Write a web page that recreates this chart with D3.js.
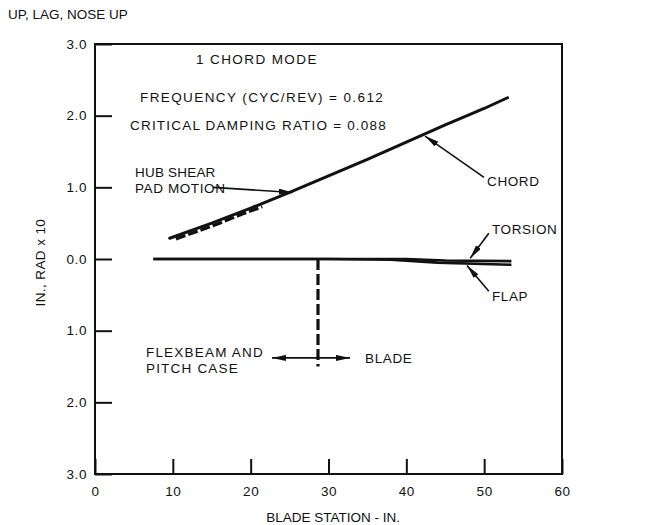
<!DOCTYPE html>
<html><head><meta charset="utf-8">
<script src="https://cdn.jsdelivr.net/npm/d3@7"></script>
<style>
body{margin:0;background:#fff;}
text{font-family:"Liberation Sans",Arial,Helvetica,sans-serif;fill:#111;}
</style></head>
<body><svg id="c" width="647" height="525"></svg>
<script>
// ---- data ----
const xTicks = [0,10,20,30,40,50,60];
const xTickLabels = ["0","10","20","30","40","50","60"];
const yTicks = [3,2,1,0,-1,-2,-3];
const yTickLabels = ["3.0","2.0","1.0","0.0","1.0","2.0","3.0"];
const chordStation = [9.6,15,20,25,30,35,40,45,50,53];
const chordValue   = [0.29,0.50,0.71,0.93,1.16,1.39,1.63,1.87,2.10,2.25];
const hubStation = [10.4,13,16,19,21.5];
const hubValue   = [0.28,0.38,0.50,0.63,0.73];
const flapStation = [7.5,20,30,38,44,53.5];
const flapValue   = [0,0,0,-0.01,-0.05,-0.08];
const torsionStation = [7.5,30,40,45,53.5];
const torsionValue   = [0,0,0,-0.02,-0.03];
const boundaryStation = 28.65;
const boundaryRange = [0,-1.5];

const svg = d3.select("#c");
const x = d3.scaleLinear().domain([0,60]).range([95,562]);
const y = d3.scaleLinear().domain([-3,3]).range([474,44]);
const FS = "13.5px";

// frame
svg.append("rect").attr("x",x(0)).attr("y",y(3)).attr("width",x(60)-x(0)).attr("height",y(-3)-y(3))
  .attr("fill","none").attr("stroke","#111").attr("stroke-width",2);

// axes
const yAxis = d3.axisLeft(y).tickValues(yTicks).tickFormat((d,i)=>yTickLabels[i]).tickSizeInner(-17).tickSizeOuter(0).tickPadding(8);
const gy = svg.append("g").attr("transform",`translate(${x(0)},0)`).call(yAxis);
const xAxis = d3.axisBottom(x).tickValues(xTicks).tickFormat((d,i)=>xTickLabels[i]).tickSizeInner(-15).tickSizeOuter(0).tickPadding(12);
const gx = svg.append("g").attr("transform",`translate(0,${y(-3)})`).call(xAxis);
[gx,gy].forEach(g=>{
  g.select(".domain").remove();
  g.selectAll(".tick line").attr("stroke","#111").attr("stroke-width",2);
  g.selectAll(".tick text").attr("font-size",FS).attr("fill","#111").attr("font-family","Liberation Sans, Arial, sans-serif").style("letter-spacing","0.6px");
});

const line = d3.line().x(d=>x(d[0])).y(d=>y(d[1]));
const zip = (a,b)=>a.map((v,i)=>[v,b[i]]);
const chordAt = v => d3.scaleLinear().domain(chordStation).range(chordValue)(v);

// lines
svg.append("path").datum(zip(flapStation,flapValue)).attr("d",line)
  .attr("fill","none").attr("stroke","#111").attr("stroke-width",2.6);
svg.append("path").datum(zip(torsionStation,torsionValue)).attr("d",line)
  .attr("fill","none").attr("stroke","#111").attr("stroke-width",2.6);
svg.append("path").datum(zip(hubStation,hubValue)).attr("d",line)
  .attr("fill","none").attr("stroke","#111").attr("stroke-width",3.2).attr("stroke-dasharray","10,3");
svg.append("path").datum(zip(chordStation,chordValue)).attr("d",line)
  .attr("fill","none").attr("stroke","#111").attr("stroke-width",3).attr("stroke-linecap","round");
svg.append("line").attr("x1",x(boundaryStation)).attr("x2",x(boundaryStation))
  .attr("y1",y(boundaryRange[0])).attr("y2",y(boundaryRange[1]))
  .attr("stroke","#111").attr("stroke-width",3.2).attr("stroke-dasharray","11,4");

// arrows
const defs = svg.append("defs");
defs.append("marker").attr("id","ah").attr("viewBox","0 0 14 6").attr("refX",14).attr("refY",3)
  .attr("markerWidth",14).attr("markerHeight",6).attr("markerUnits","userSpaceOnUse").attr("orient","auto-start-reverse")
  .append("path").attr("d","M0,0 L14,3 L0,6 Z").attr("fill","#111");
function arrow(a,b,c,d,both){
  const l = svg.append("line").attr("x1",x(a)).attr("y1",y(b)).attr("x2",x(c)).attr("y2",y(d))
    .attr("stroke","#111").attr("stroke-width",1.6).attr("marker-end","url(#ah)");
  if(both) l.attr("marker-start","url(#ah)");
}
arrow(15.16,1.00,25.4,chordAt(25.4)-0.02);
arrow(49.98,1.14,42.4,chordAt(42.4)-0.03);
arrow(50.6,0.36,48.2,0.01);
arrow(50.6,-0.45,47.8,-0.09);
arrow(22.74,-1.38,32.76,-1.38,true);

// text
function txt(s,a,b,ls){
  return svg.append("text").attr("x",x(a)).attr("y",y(b)).attr("dy","0.35em")
    .attr("font-size",FS).style("letter-spacing",(ls||0.6)+"px").text(s);
}
txt("1 CHORD MODE",12.98,2.78,1.4);
txt("FREQUENCY (CYC/REV) = 0.612",5.78,2.26,1.4);
txt("CRITICAL DAMPING RATIO = 0.088",4.5,1.87,1.2);
txt("HUB SHEAR",5.14,1.21,0.2);
txt("PAD MOTION",5.14,0.99,0);
txt("CHORD",50.37,1.09);
txt("TORSION",51.0,0.42);
txt("FLAP",51.0,-0.52);
txt("FLEXBEAM AND",6.55,-1.30,1.2);
txt("PITCH CASE",6.55,-1.52,1.2);
txt("BLADE",34.7,-1.38);

svg.append("text").attr("x",8).attr("y",14).attr("dy","0.35em").attr("font-size",FS).style("letter-spacing","0px").text("UP, LAG, NOSE UP");
svg.append("text").attr("transform",`translate(40,${y(-0.05)}) rotate(-90)`).attr("dy","0.35em")
  .attr("text-anchor","middle").attr("font-size",FS).style("letter-spacing","0.4px").text("IN., RAD x 10");
svg.append("text").attr("x",x(30.6)).attr("y",517).attr("dy","0.35em").attr("text-anchor","middle")
  .attr("font-size",FS).style("letter-spacing","0px").text("BLADE STATION - IN.");
</script></body></html>
